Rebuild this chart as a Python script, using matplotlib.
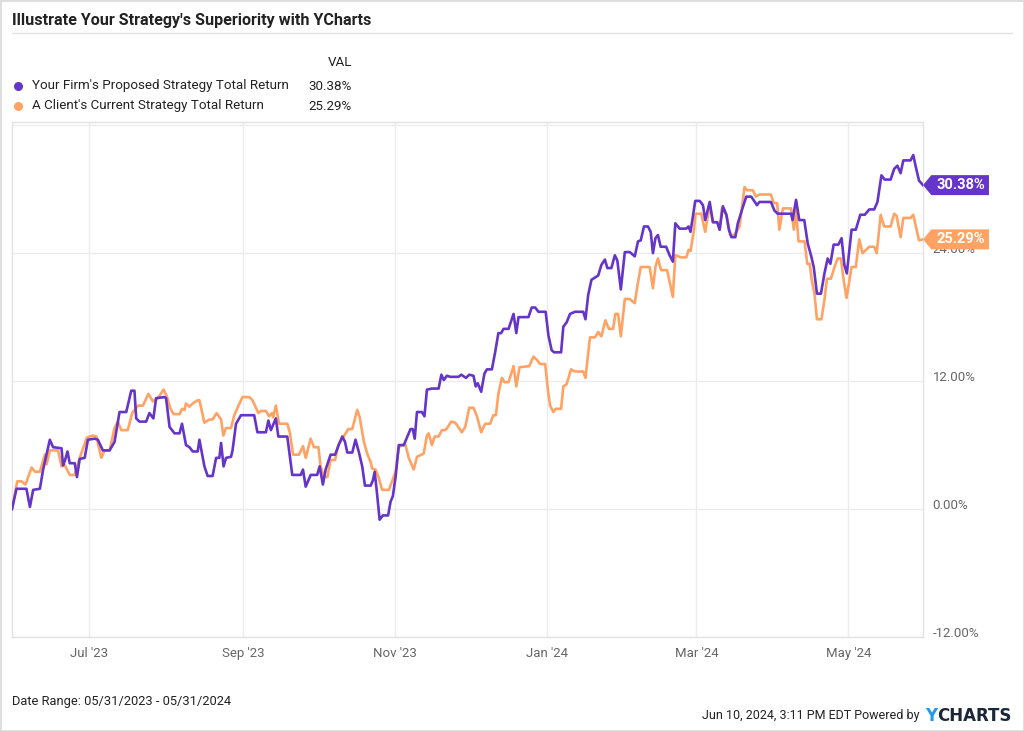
import numpy as np
import pandas as pd
import matplotlib
matplotlib.use("Agg")
import matplotlib.pyplot as plt
import matplotlib.dates as mdates
from matplotlib.lines import Line2D
from matplotlib.patches import Polygon, Rectangle
from matplotlib.transforms import Affine2D, ScaledTranslation

plt.rcParams["font.family"] = ["Liberation Sans Narrow", "Roboto", "DejaVu Sans"]

TITLE = "Illustrate Your Strategy's Superiority with YCharts"
START = pd.Timestamp("2023-05-31")
END = pd.Timestamp("2024-05-31")

FIRM_NAME = "Your Firm's Proposed Strategy Total Return"
CLIENT_NAME = "A Client's Current Strategy Total Return"
FIRM_LAST = 30.38
CLIENT_LAST = 25.29

# days since 2023-05-31, total return in %
firm_days = [0, 1.8, 5.8, 7.2, 8.5, 11.2, 12.5, 15.2, 16.5, 19.9,
             20.5, 21.2, 22.3, 23.2, 25.2, 26.1, 27.2, 29.2, 30.5, 33.2,
             34.5, 36.5, 39.2, 41.2, 43.2, 45.9, 47.9, 49.2, 49.9, 51.2,
             53.9, 55.2, 56.8, 57.9, 61.3, 61.9, 63.3, 65.3, 67.3, 68.3,
             69.9, 71.3, 72.6, 74.6, 75.3, 77.3, 78.6, 80.6, 82.0, 83.3,
             84.0, 85.0, 86.0, 88.0, 88.6, 90.0, 92.0, 97.3, 98.6, 102.0,
             103.0, 104.0, 106.0, 107.0, 110.6, 112.6, 116.0, 116.9, 118.0, 120.0,
             122.6, 123.6, 124.9, 126.0, 128.0, 129.8, 131.4, 132.7, 133.8, 134.7,
             136.7, 138.0, 139.4, 140.7, 141.8, 144.1, 145.0, 145.7, 146.5, 147.7,
             149.0, 151.1, 152.1, 153.0, 154.1, 155.4, 157.4, 158.3, 160.1, 161.0,
             161.8, 162.7, 164.7, 165.7, 166.7, 168.7, 171.4, 172.5, 173.5, 174.7,
             176.1, 179.4, 180.5, 182.4, 183.7, 185.4, 186.3, 187.1, 188.5, 189.8,
             190.8, 192.8, 194.1, 195.4, 196.5, 197.5, 199.5, 201.5, 202.6, 203.5,
             207.5, 208.8, 210.2, 211.5, 214.4, 215.5, 216.8, 217.8, 220.6, 221.5,
             222.8, 224.2, 226.2, 229.5, 230.4, 231.5, 232.8, 235.5, 236.8, 238.2,
             239.2, 240.8, 242.2, 243.2, 244.6, 246.2, 248.2, 250.2, 251.5, 252.6,
             253.9, 255.5, 256.6, 257.5, 258.5, 259.5, 260.6, 262.8, 264.2, 265.5,
             266.5, 268.2, 270.9, 271.8, 272.6, 274.5, 276.3, 277.6, 278.5, 280.3,
             281.6, 283.3, 284.3, 285.6, 287.0, 288.0, 289.0, 290.6, 291.6, 293.6,
             295.0, 297.0, 299.3, 300.3, 304.9, 306.3, 307.6, 313.0, 313.6, 315.0,
             316.3, 318.3, 319.7, 321.0, 322.1, 323.4, 325.0, 326.4, 327.7, 328.8,
             330.1, 332.0, 333.3, 334.4, 335.4, 337.3, 339.0, 340.8, 342.6, 344.4,
             346.4, 347.7, 349.3, 350.6, 353.0, 354.4, 355.7, 357.0, 358.1, 361.0,
             362.1, 363.0, 364.4, 366]
firm_vals = [0.0, 1.9, 1.9, 0.2, 1.8, 1.9, 3.7, 6.5, 5.8, 5.7,
             4.1, 4.5, 5.4, 4.3, 4.3, 3.0, 4.7, 4.8, 6.5, 6.6,
             6.5, 5.5, 5.5, 6.3, 9.1, 9.1, 11.1, 11.1, 8.5, 8.2,
             8.2, 9.0, 8.5, 10.4, 10.5, 10.4, 7.7, 7.1, 7.1, 8.0,
             6.0, 5.8, 5.4, 5.4, 6.5, 4.0, 3.1, 3.1, 4.8, 4.8,
             6.2, 4.0, 4.8, 4.9, 5.5, 8.0, 8.8, 8.8, 7.2, 7.2,
             8.3, 7.4, 8.5, 6.8, 6.8, 3.2, 3.2, 3.7, 2.1, 3.2,
             3.2, 4.0, 2.3, 3.7, 5.1, 5.1, 6.1, 6.8, 6.3, 5.3,
             5.3, 6.5, 5.3, 4.0, 2.2, 2.2, 2.7, 3.5, 1.8, -1.0,
             -0.6, -0.6, 0.7, 1.2, 3.0, 6.0, 6.0, 6.5, 7.5, 7.5,
             6.6, 9.1, 9.1, 8.7, 11.2, 11.3, 11.3, 12.6, 12.1, 12.5,
             12.4, 12.4, 12.6, 12.3, 12.6, 12.5, 11.5, 11.8, 11.0, 12.7,
             13.1, 13.1, 14.7, 16.5, 16.5, 16.9, 16.9, 18.3, 16.5, 18.0,
             18.0, 18.9, 18.9, 18.5, 18.5, 16.3, 14.9, 14.7, 14.7, 17.1,
             17.5, 18.3, 18.5, 18.5, 17.8, 20.1, 21.5, 21.9, 22.9, 23.4,
             22.6, 22.6, 23.8, 23.3, 20.6, 24.1, 24.1, 23.7, 25.1, 25.2,
             26.5, 26.5, 26.0, 24.0, 25.4, 25.7, 24.6, 24.6, 23.8, 23.2,
             26.8, 26.3, 26.3, 26.5, 26.0, 28.9, 28.9, 28.5, 27.1, 28.8,
             26.9, 26.9, 26.2, 28.4, 27.6, 26.2, 25.5, 25.5, 26.8, 28.3,
             29.3, 29.3, 28.5, 28.8, 28.8, 28.0, 27.7, 27.7, 27.1, 29.0,
             27.1, 27.1, 24.9, 23.8, 22.7, 20.2, 20.2, 22.1, 23.5, 23.0,
             24.8, 24.8, 25.4, 22.9, 22.1, 26.2, 26.2, 27.6, 27.6, 28.1,
             28.1, 28.8, 31.3, 30.9, 30.9, 31.9, 32.2, 31.5, 32.7, 32.7,
             33.2, 32.2, 30.8, 30.38]

client_days = [0, 2.1, 3.8, 5.4, 7.9, 9.2, 11.2, 13.2, 13.9, 15.2,
               18.5, 19.9, 21.2, 23.2, 25.2, 27.2, 30.1, 32.5, 33.9, 35.9,
               37.2, 39.2, 41.2, 42.5, 43.9, 46.5, 48.3, 50.6, 52.6, 54.8,
               56.6, 58.6, 60.9, 62.3, 63.5, 64.9, 67.3, 68.3, 69.3, 69.9,
               71.3, 72.6, 74.6, 75.3, 77.3, 79.3, 80.6, 82.2, 84.0, 84.9,
               86.0, 88.0, 89.3, 91.0, 92.6, 95.3, 96.6, 99.0, 100.0, 102.0,
               103.3, 104.4, 104.9, 106.0, 107.3, 110.6, 111.6, 112.9, 115.3, 116.9,
               118.0, 120.0, 121.3, 123.1, 124.0, 125.3, 126.7, 128.0, 129.8, 131.1,
               132.7, 134.0, 135.1, 136.7, 138.7, 139.6, 141.4, 142.7, 144.1, 144.7,
               146.1, 147.4, 148.7, 151.4, 152.7, 154.1, 155.4, 156.7, 158.1, 159.4,
               161.4, 162.7, 165.4, 166.7, 167.4, 168.7, 169.8, 171.4, 172.7, 174.1,
               175.1, 176.5, 178.1, 180.7, 182.1, 183.7, 185.4, 186.8, 188.5, 190.1,
               192.1, 193.4, 194.4, 195.4, 196.8, 197.9, 199.5, 201.5, 202.6, 203.9,
               207.8, 209.5, 210.8, 212.2, 214.2, 215.5, 216.2, 217.5, 218.4, 220.6,
               221.5, 222.8, 224.6, 226.2, 229.5, 230.4, 232.2, 234.2, 235.5, 236.8,
               238.4, 239.8, 241.5, 242.4, 243.5, 244.6, 246.2, 248.2, 250.2, 251.3,
               252.6, 256.2, 257.5, 258.5, 259.5, 260.8, 263.2, 265.5, 266.5, 268.9,
               270.9, 271.8, 272.6, 274.0, 274.6, 276.9, 278.5, 280.3, 281.6, 283.6,
               284.3, 285.2, 287.0, 288.7, 290.3, 292.3, 294.3, 295.3, 297.6, 298.9,
               300.3, 304.9, 306.0, 307.4, 308.3, 309.7, 313.0, 314.1, 315.0, 316.0,
               318.4, 319.5, 320.5, 321.3, 322.4, 323.4, 325.2, 326.4, 327.4, 329.0,
               330.6, 331.7, 333.0, 334.1, 335.3, 337.3, 339.0, 340.4, 341.7, 344.4,
               346.4, 347.4, 349.0, 350.4, 353.0, 354.4, 355.4, 357.0, 358.1, 361.0,
               362.1, 364.4, 366]
client_vals = [0.0, 2.6, 2.6, 2.3, 3.9, 3.5, 3.5, 5.1, 4.2, 5.5,
               5.5, 4.0, 4.1, 3.2, 3.2, 4.8, 6.7, 6.9, 6.8, 4.8,
               5.5, 5.5, 7.6, 8.2, 7.4, 7.4, 9.0, 9.7, 9.7, 10.8,
               10.1, 10.4, 11.2, 10.5, 9.5, 8.9, 8.9, 9.4, 9.3, 9.9,
               9.6, 9.9, 10.2, 10.2, 8.1, 8.4, 8.4, 9.0, 8.4, 6.9,
               7.6, 7.6, 8.8, 9.7, 10.5, 10.5, 10.2, 9.0, 9.2, 9.2,
               8.7, 9.0, 8.6, 9.7, 8.0, 8.0, 7.2, 5.1, 5.1, 5.9,
               4.8, 6.6, 5.8, 5.8, 4.0, 3.0, 3.0, 4.6, 4.6, 6.0,
               6.6, 7.1, 7.5, 7.5, 9.3, 8.7, 6.3, 5.2, 4.4, 3.8,
               3.7, 2.9, 1.8, 1.8, 2.6, 3.5, 5.8, 6.0, 6.0, 4.8,
               3.7, 4.9, 5.2, 6.9, 7.1, 6.0, 6.8, 6.8, 7.4, 7.4,
               7.7, 8.2, 8.1, 7.2, 7.7, 9.5, 9.5, 8.7, 7.2, 8.0,
               8.0, 8.8, 8.8, 10.8, 12.3, 11.9, 11.9, 13.4, 11.5, 13.3,
               13.4, 14.3, 14.0, 13.6, 13.6, 10.8, 9.7, 9.1, 9.4, 9.4,
               11.5, 11.7, 13.1, 12.9, 12.9, 12.3, 16.1, 16.1, 16.6, 16.2,
               17.7, 16.9, 16.9, 18.3, 18.3, 16.2, 19.7, 19.7, 19.3, 21.0,
               22.7, 22.7, 20.7, 22.7, 23.5, 22.4, 22.4, 19.9, 23.8, 23.6,
               23.6, 24.3, 24.2, 26.2, 27.7, 27.7, 26.0, 28.5, 26.9, 26.9,
               26.2, 28.2, 27.6, 25.7, 25.7, 26.5, 30.2, 29.9, 29.9, 29.3,
               29.5, 29.5, 28.7, 28.7, 26.2, 28.2, 28.2, 26.2, 28.0, 25.1,
               25.1, 23.0, 23.0, 21.5, 20.2, 17.8, 17.8, 19.6, 21.6, 21.6,
               22.8, 23.5, 23.5, 21.5, 19.8, 22.7, 22.7, 25.3, 24.0, 24.6,
               24.6, 24.0, 27.6, 26.5, 26.5, 27.7, 27.5, 25.5, 27.3, 27.3,
               27.6, 25.2, 25.29]

tick_dates = ["2023-07-01", "2023-09-01", "2023-11-01", "2024-01-01", "2024-03-01", "2024-05-01"]
tick_labels = ["Jul '23", "Sep '23", "Nov '23", "Jan '24", "Mar '24", "May '24"]
y_ticks = [-12, 0, 12, 24, 36]
y_labels = ["-12.00%", "0.00%", "12.00%", "24.00%", ""]

PURPLE = "#6535c9"
ORANGE = "#ffa365"
GRID = "#ececec"
TXT = "#222222"
GREY = "#666666"

firm_x = START + pd.to_timedelta(firm_days, unit="D")
client_x = START + pd.to_timedelta(client_days, unit="D")

fig = plt.figure(figsize=(10.24, 7.31), dpi=100)
W, H = 1024, 731
ax = fig.add_axes([12 / W, 1 - 637 / H, 911 / W, (637 - 122) / H])

ax.plot(client_x, client_vals, color=ORANGE, lw=1.9, zorder=3)
ax.plot(firm_x, firm_vals, color=PURPLE, lw=1.9, zorder=4)

ax.set_xlim(START, END)
ax.set_ylim(-12, 36.3)
ax.set_xticks(pd.to_datetime(tick_dates))
ax.set_xticklabels(tick_labels)
ax.set_yticks(y_ticks)
ax.set_yticklabels(y_labels)
ax.yaxis.tick_right()
ax.grid(True, color=GRID, lw=1, zorder=0)
ax.tick_params(axis="x", length=0, pad=7, labelsize=9.5, labelcolor=GREY)
ax.tick_params(axis="y", length=0, pad=7, labelsize=9.5, labelcolor=GREY)
for lab in ax.get_yticklabels():
    lab.set_va("baseline")
for s in ax.spines.values():
    s.set_color("#e2e2e2")
    s.set_linewidth(1)

# end-of-line value tags
pt = fig.dpi / 72.0
tag = [(0, 0), (6, 7.2), (47.5, 7.2), (47.5, -7.2), (6, -7.2)]
end_x = mdates.date2num(END)
for val, col in [(FIRM_LAST, PURPLE), (CLIENT_LAST, ORANGE)]:
    tr = Affine2D().scale(pt) + ScaledTranslation(end_x, val, ax.transData)
    ax.add_patch(Polygon(tag, closed=True, transform=tr, fc=col, ec="none", clip_on=False, zorder=6))
    ax.text(27, 0, f"{val:.2f}%", transform=tr, color="white", fontsize=10.5, fontweight="bold",
            ha="center", va="center", zorder=7, clip_on=False)

# title and legend
fig.text(12 / W, 1 - 20 / H, TITLE, fontsize=11.6, fontweight="bold", color=TXT, va="center")
fig.add_artist(Line2D([12 / W, 1012 / W], [1 - 33 / H] * 2, color="#e3e3e3", lw=1))
fig.text(352 / W, 1 - 63 / H, "VAL", fontsize=9.6, color=TXT, ha="right", va="center")
for yy, name, val, col in [(86, FIRM_NAME, FIRM_LAST, PURPLE), (106, CLIENT_NAME, CLIENT_LAST, ORANGE)]:
    fig.add_artist(Line2D([18 / W], [1 - yy / H], marker="o", ms=5.5, color=col, lw=0))
    fig.text(32 / W, 1 - yy / H, name, fontsize=9.6, color=TXT, va="center")
    fig.text(352 / W, 1 - yy / H, f"{val:.2f}%", fontsize=9.6, color=TXT, ha="right", va="center")

# footer
fig.text(12 / W, 1 - 702 / H, "Date Range: 05/31/2023 - 05/31/2024", fontsize=9.3, color=TXT, va="center")
fig.text(920 / W, 1 - 716 / H, "Jun 10, 2024, 3:11 PM EDT Powered by", fontsize=9, color=TXT,
         ha="right", va="center")
fig.text(925 / W, 1 - 716 / H, "Y", fontsize=12, fontweight="bold", color="#1e9bf0", va="center",
         family="DejaVu Sans")
fig.text(937 / W, 1 - 716 / H, "CHARTS", fontsize=12, fontweight="bold", color="#1b2637", va="center",
         family="DejaVu Sans")
fig.add_artist(Rectangle((0, 0), 1, 1, transform=fig.transFigure, fill=False, ec="#dddddd", lw=2))

fig.savefig("out.png", dpi=100)
